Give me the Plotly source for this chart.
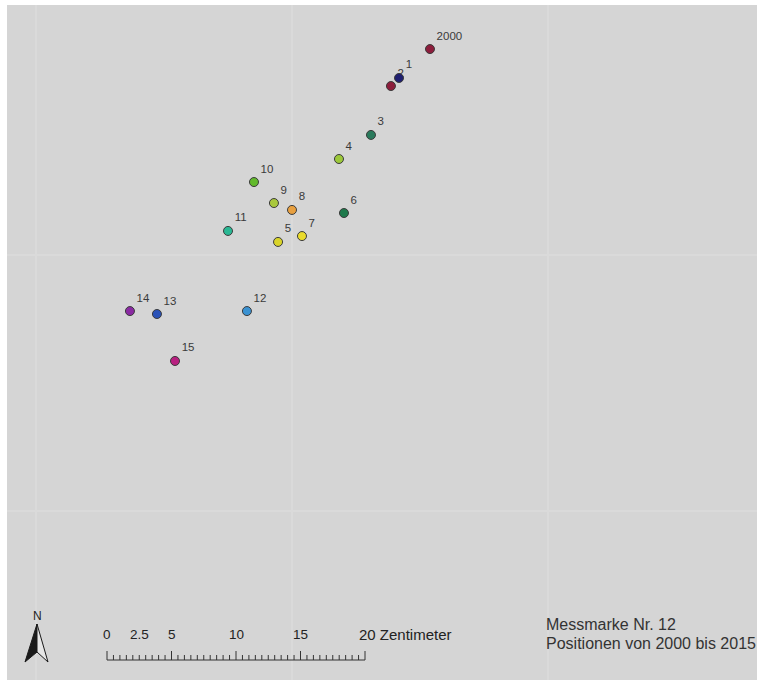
import plotly.graph_objects as go

# ---- data (cm, relative to grid origin) ----
labels = ["2000", "1", "2", "3", "4", "5", "6", "7", "8", "9", "10", "11", "12", "13", "14", "15"]
x_cm = [30.78, 28.36, 27.73, 26.17, 23.67, 18.91, 24.06, 20.78, 20.00, 18.59, 17.03, 15.00, 16.48, 9.45, 7.34, 10.86]
y_cm = [16.09, 13.83, 13.20, 9.38, 7.50, 1.02, 3.28, 1.48, 3.52, 4.06, 5.70, 1.88, -4.38, -4.61, -4.38, -8.28]
colors = ["#8c1d3c", "#1f1f70", "#8c1d3c", "#2a7a5c", "#9cc83a", "#d9d42a", "#1f7a4c", "#eadb2c",
          "#e8a040", "#a9c83c", "#62ba2c", "#2ab894", "#3a92d2", "#2a52b8", "#8a2aa2", "#b82080"]

scale_labels = ["0", "2.5", "5", "10", "15", "20 Zentimeter"]
scale_label_pos = [0, 2.5, 5, 10, 15, 20]
scale_minor_step = 0.5
scale_major = [0, 5, 10, 15, 20]
scale_length = 20

info_lines = ["Messmarke Nr. 12", "Positionen von 2000 bis 2015"]

# ---- figure ----
PX = 12.8  # pixels per cm
W, H = 757, 680
ml, mt = 7, 5
x0 = -(36 - ml) / PX
x1 = x0 + (W - ml) / PX
y1 = (255 - mt) / PX
y0 = y1 - (H - mt) / PX

FONT = "Liberation Sans, Arial"

fig = go.Figure()

order_main = [i for i in range(len(labels)) if labels[i] != "1"]
order_top = [i for i in range(len(labels)) if labels[i] == "1"]
for idx in (order_main, order_top):
    fig.add_trace(go.Scatter(
        x=[x_cm[i] for i in idx], y=[y_cm[i] for i in idx],
        text=[labels[i] for i in idx],
        mode="markers+text", textposition="top right",
        textfont=dict(family=FONT, size=11.5, color="#3a3a3a"),
        marker=dict(size=9, color=[colors[i] for i in idx], line=dict(color="#3a3a3a", width=1)),
        hoverinfo="text", showlegend=False, cliponaxis=False,
    ))

# scale bar
sb_x = (107 - 36) / PX
sb_y = (255 - 660) / PX
sb_px = 258 / scale_length / PX  # scale bar drawn slightly wider per unit
shapes = []
shapes.append(dict(type="line", xref="x", yref="y", x0=sb_x, x1=sb_x + scale_length * sb_px, y0=sb_y, y1=sb_y,
                   line=dict(color="#333333", width=1)))
n = int(round(scale_length / scale_minor_step))
for k in range(n + 1):
    t = k * scale_minor_step
    h = 9 / PX if t in scale_major else 5 / PX
    shapes.append(dict(type="line", xref="x", yref="y", x0=sb_x + t * sb_px, x1=sb_x + t * sb_px,
                       y0=sb_y, y1=sb_y + h, line=dict(color="#333333", width=1)))

annotations = []
for lab, pos in zip(scale_labels, scale_label_pos):
    if lab.startswith("20 "):
        annotations.append(dict(x=sb_x + pos * sb_px, y=(255 - 634) / PX, xref="x", yref="y", text=lab,
                                showarrow=False, xanchor="left", yanchor="middle", xshift=-8,
                                font=dict(family=FONT, size=15, color="#222222")))
    else:
        annotations.append(dict(x=sb_x + pos * sb_px, y=(255 - 634) / PX, xref="x", yref="y", text=lab,
                                showarrow=False, xanchor="center", yanchor="middle",
                                font=dict(family=FONT, size=13.5, color="#222222")))

# north arrow (paper coords from pixels)
def px2paper(px, py):
    return (px - ml) / (W - ml), 1 - (py - mt) / (H - mt)

ax, ay = px2paper(37, 624)
lx, ly = px2paper(25, 662)
nx, ny = px2paper(37, 652)
rx, ry = px2paper(48, 662)
shapes.append(dict(type="path", xref="paper", yref="paper",
                   path=f"M {ax} {ay} L {lx} {ly} L {nx} {ny} Z",
                   fillcolor="#1a1a1a", line=dict(color="#1a1a1a", width=1)))
shapes.append(dict(type="path", xref="paper", yref="paper",
                   path=f"M {ax} {ay} L {nx} {ny} L {rx} {ry} Z",
                   fillcolor="#e6e6e6", line=dict(color="#1a1a1a", width=1)))
nxp, nyp = px2paper(37, 616)
annotations.append(dict(x=nxp, y=nyp, xref="paper", yref="paper", text="N", showarrow=False,
                        xanchor="center", yanchor="middle",
                        font=dict(family=FONT, size=12, color="#222222")))

# info text
for line, py in zip(info_lines, [624, 643]):
    ix, iy = px2paper(544, py)
    annotations.append(dict(x=ix, y=iy, xref="paper", yref="paper", text=line,
                            showarrow=False, xanchor="left", yanchor="middle", align="left",
                            font=dict(family=FONT, size=16, color="#333333")))

fig.update_layout(
    width=W, height=H,
    margin=dict(l=ml, r=0, t=mt, b=0, pad=0),
    paper_bgcolor="white", plot_bgcolor="#d5d5d5",
    shapes=shapes, annotations=annotations,
    xaxis=dict(range=[x0, x1], showgrid=True, dtick=20, tick0=0, gridcolor="#dadada", gridwidth=2,
               zeroline=False, showticklabels=False, ticks="", showline=False, fixedrange=True),
    yaxis=dict(range=[y0, y1], showgrid=True, dtick=20, tick0=0, gridcolor="#dadada", gridwidth=2,
               zeroline=False, showticklabels=False, ticks="", showline=False, fixedrange=True),
)

fig.write_html("out.html", config={"displayModeBar": False},
               post_script="document.body.style.margin='0px';document.body.style.overflow='hidden';")
